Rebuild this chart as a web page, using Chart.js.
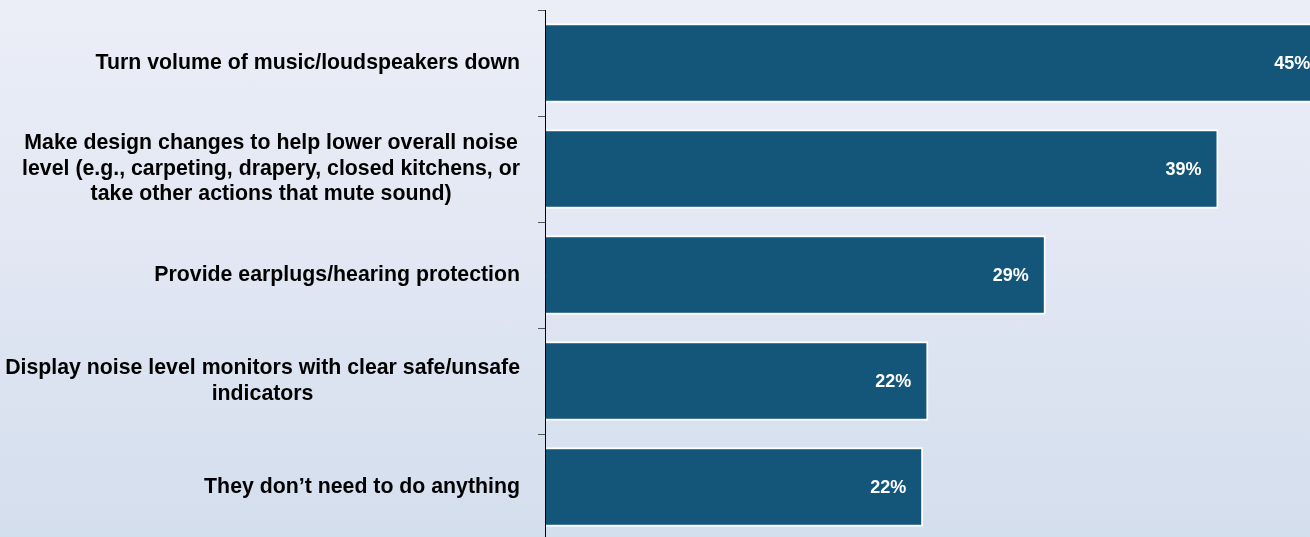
<!DOCTYPE html>
<html>
<head>
<meta charset="utf-8">
<script src="https://cdn.jsdelivr.net/npm/chart.js@4/dist/chart.umd.min.js"></script>
<style>
  html, body { margin: 0; padding: 0; width: 1310px; height: 537px; overflow: hidden; }
  #wrap { position: absolute; left: 0; top: 0; width: 1310px; height: 545px;
          background: linear-gradient(to bottom, #ebeef7 0%, #e2e7f3 45%, #d3deed 100%); }
  canvas { display: block; }
</style>
</head>
<body>
<div id="wrap"><canvas id="c" width="1310" height="545"></canvas></div>
<script>
const categories = [
  ["Turn volume of music/loudspeakers down"],
  ["Make design changes to help lower overall noise", "level (e.g., carpeting, drapery, closed kitchens, or", "take other actions that mute sound)"],
  ["Provide earplugs/hearing protection"],
  ["Display noise level monitors with clear safe/unsafe", "indicators"],
  ["They don\u2019t need to do anything"]
];
const values = [45.3, 39.0, 29.0, 22.2, 21.9];
const valueLabels = ["45%", "39%", "29%", "22%", "22%"];

const labelFont = 'bold 21.3px "Liberation Sans", Arial, sans-serif';
const valueFont = 'bold 18px "Liberation Sans", Arial, sans-serif';

const labelPlugin = {
  id: 'customLabels',
  afterDraw(chart) {
    const ctx = chart.ctx;
    const yScale = chart.scales.y;
    const meta = chart.getDatasetMeta(0);
    ctx.save();
    ctx.font = labelFont;
    ctx.fillStyle = '#000000';
    ctx.textAlign = 'center';
    ctx.textBaseline = 'middle';
    const lineH = 25.5;
    categories.forEach((lines, i) => {
      const cy = yScale.getPixelForValue(i);
      const w = Math.max(...lines.map(l => ctx.measureText(l).width));
      const cx = chart.chartArea.left - 25 - w / 2;
      lines.forEach((l, j) => {
        ctx.fillText(l, cx, cy + (j - (lines.length - 1) / 2) * lineH);
      });
    });
    ctx.font = valueFont;
    ctx.fillStyle = '#ffffff';
    meta.data.forEach((bar, i) => {
      ctx.fillText(valueLabels[i], bar.x - 35, bar.y + 1);
    });
    ctx.restore();
  }
};

new Chart(document.getElementById('c'), {
  type: 'bar',
  data: {
    labels: categories,
    datasets: [{
      data: values,
      backgroundColor: '#145679',
      borderColor: '#ffffff',
      borderWidth: 2,
      borderSkipped: 'start',
      categoryPercentage: 0.75,
      barPercentage: 1.0
    }]
  },
  options: {
    indexAxis: 'y',
    responsive: false,
    animation: false,
    events: [],
    layout: { padding: { top: 10, bottom: 5, left: 0, right: 0 } },
    plugins: { legend: { display: false }, tooltip: { enabled: false } },
    scales: {
      x: { display: false, min: 0, max: 44.3 },
      y: {
        offset: true,
        ticks: { display: false },
        grid: { display: true, offset: true, drawOnChartArea: false, drawTicks: true, tickLength: 7, color: '#555555', lineWidth: 1 },
        border: { display: true, color: '#000000', width: 1, z: 1 },
        afterFit(scale) { scale.width = 545; }
      }
    }
  },
  plugins: [labelPlugin]
});
</script>
</body>
</html>
